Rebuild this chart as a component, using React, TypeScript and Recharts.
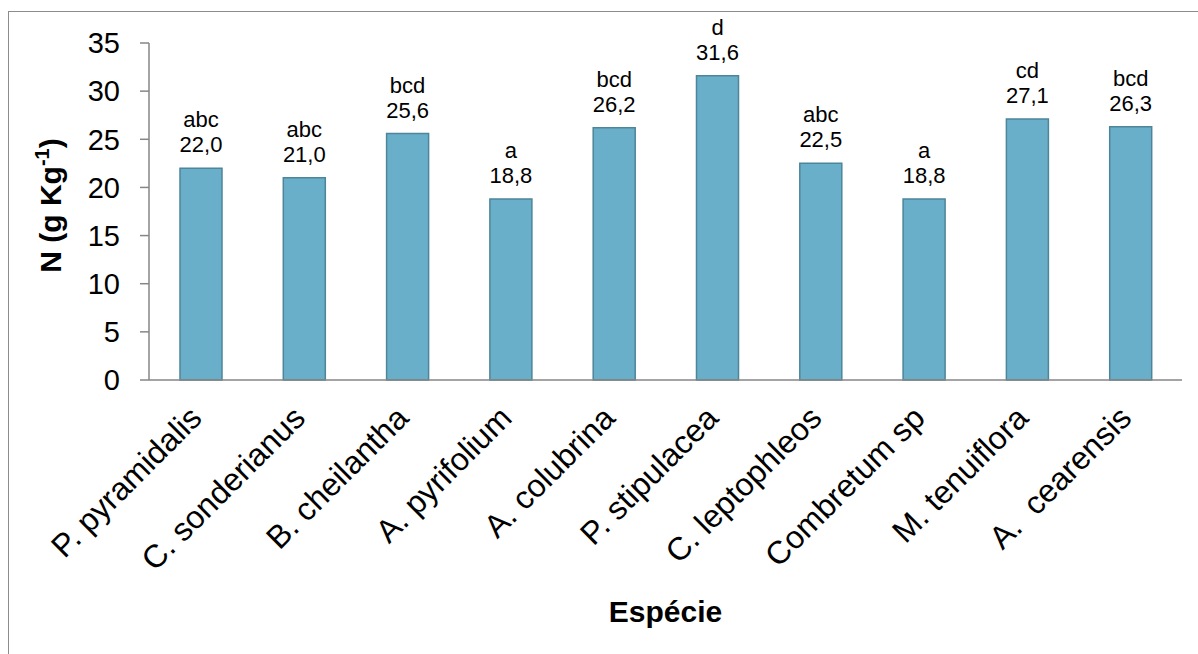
import React from "react";
import { BarChart, Bar, XAxis, YAxis, LabelList } from "recharts";

const species = [
  "P. pyramidalis",
  "C. sonderianus",
  "B. cheilantha",
  "A. pyrifolium",
  "A. colubrina",
  "P. stipulacea",
  "C. leptophleos",
  "Combretum sp",
  "M. tenuiflora",
  "A.  cearensis",
];
const nitrogen = [22.0, 21.0, 25.6, 18.8, 26.2, 31.6, 22.5, 18.8, 27.1, 26.3];
const letters = ["abc", "abc", "bcd", "a", "bcd", "d", "abc", "a", "cd", "bcd"];
const yTicks = [0, 5, 10, 15, 20, 25, 30, 35];

const data = species.map((name, i) => ({ name, n: nitrogen[i] }));

const FONT = "'Liberation Sans', Arial, sans-serif";

const XTick = (props: any) => {
  const { x, y, payload } = props;
  const tx = x + 3;
  const ty = y + 40;
  return (
    <text
      x={tx}
      y={ty}
      textAnchor="end"
      transform={`rotate(-45 ${tx} ${ty})`}
      fontSize={32}
      fontFamily={FONT}
      fill="#000"
      style={{ whiteSpace: "pre" }}
    >
      {payload.value}
    </text>
  );
};

const BarLabel = (props: any) => {
  const { x, y, width, value, index } = props;
  const cx = x + width / 2;
  return (
    <g fontFamily={FONT} fontSize={22} fill="#000" textAnchor="middle">
      <text x={cx} y={y - 41}>{letters[index]}</text>
      <text x={cx} y={y - 16}>{Number(value).toFixed(1).replace(".", ",")}</text>
    </g>
  );
};

const YTitle = (props: any) => {
  const { viewBox } = props;
  const cx = 61;
  const cy = viewBox.y + viewBox.height / 2 - 6;
  return (
    <text
      x={cx}
      y={cy}
      textAnchor="middle"
      transform={`rotate(-90 ${cx} ${cy})`}
      fontSize={30}
      fontWeight="bold"
      fontFamily={FONT}
      fill="#000"
    >
      N (g Kg
      <tspan fontSize={20} dy={-12}>-1</tspan>
      <tspan dy={12}>)</tspan>
    </text>
  );
};

const XTitle = (props: any) => {
  const { viewBox } = props;
  return (
    <text
      x={viewBox.x + viewBox.width / 2}
      y={622}
      textAnchor="middle"
      fontSize={30}
      fontWeight="bold"
      fontFamily={FONT}
      fill="#000"
    >
      Espécie
    </text>
  );
};

export default function App() {
  return (
    <div
      style={{
        position: "absolute",
        left: 0,
        top: 0,
        width: 1198,
        height: 654,
        overflow: "hidden",
        background: "#fff",
      }}
    >
      <div
        style={{
          position: "absolute",
          left: 8,
          top: 11,
          width: 1300,
          height: 800,
          border: "1.5px solid #8c8c8c",
        }}
      />
      <div style={{ position: "absolute", left: 0, top: 0 }}>
        <BarChart
          width={1198}
          height={654}
          data={data}
          margin={{ top: 43, right: 16, left: 0, bottom: 0 }}
        >
          <XAxis
            dataKey="name"
            height={274}
            interval={0}
            tickLine={false}
            tickSize={0}
            tickMargin={0}
            axisLine={{ stroke: "#868686", strokeWidth: 1.5 }}
            tick={<XTick />}
            label={{ content: <XTitle /> }}
          />
          <YAxis
            width={149}
            domain={[0, 35]}
            ticks={yTicks}
            interval={0}
            tickSize={9}
            tickMargin={20}
            axisLine={{ stroke: "#868686", strokeWidth: 1.5 }}
            tickLine={{ stroke: "#868686", strokeWidth: 1.5 }}
            tick={{ fontSize: 29, fill: "#000", fontFamily: FONT }}
            label={{ content: <YTitle /> }}
          />
          <Bar
            dataKey="n"
            fill="#6AAFC9"
            stroke="#4D8599"
            strokeWidth={1.5}
            barSize={42}
            isAnimationActive={false}
          >
            <LabelList dataKey="n" content={<BarLabel />} />
          </Bar>
        </BarChart>
      </div>
    </div>
  );
}
